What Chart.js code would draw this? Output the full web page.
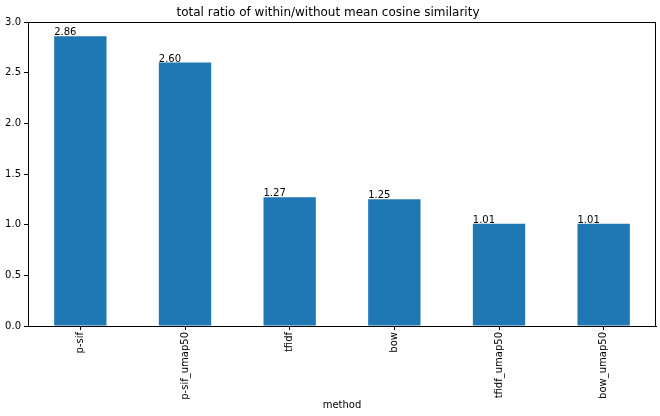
<!DOCTYPE html>
<html>
<head>
<meta charset="utf-8">
<script src="https://cdn.jsdelivr.net/npm/chart.js@4/dist/chart.umd.min.js"></script>
<style>
html,body{margin:0;padding:0;background:#fff;}
#wrap{width:660px;height:416px;}
</style>
</head>
<body>
<div id="wrap"><canvas id="c" width="660" height="416"></canvas></div>
<script>
const categories = ["p-sif", "p-sif_umap50", "tfidf", "bow", "tfidf_umap50", "bow_umap50"];
const ratioValues = [2.86, 2.60, 1.27, 1.25, 1.01, 1.01];
const yTickValues = [0.0, 0.5, 1.0, 1.5, 2.0, 2.5, 3.0];

Chart.defaults.font.family = "'DejaVu Sans', sans-serif";
Chart.defaults.color = "#000";

const frame = {
  id: 'frame',
  afterDraw(chart) {
    const {ctx, chartArea: a} = chart;
    ctx.save();
    ctx.strokeStyle = '#000';
    ctx.lineWidth = 1;
    ctx.strokeRect(Math.round(a.left) + 0.5, Math.round(a.top) + 0.5, Math.round(a.right - a.left) - 1, Math.round(a.bottom - a.top));
    ctx.restore();
  }
};

const barLabels = {
  id: 'barLabels',
  afterDatasetsDraw(chart) {
    const {ctx} = chart;
    const meta = chart.getDatasetMeta(0);
    ctx.save();
    ctx.font = "10px 'DejaVu Sans', sans-serif";
    ctx.fillStyle = '#000';
    ctx.textAlign = 'left';
    ctx.textBaseline = 'alphabetic';
    meta.data.forEach((bar, i) => {
      const v = chart.data.datasets[0].data[i];
      ctx.fillText(v.toFixed(2), bar.x - bar.width / 2, bar.y - 1);
    });
    ctx.restore();
  }
};

new Chart(document.getElementById('c'), {
  type: 'bar',
  data: {
    labels: categories,
    datasets: [{
      data: ratioValues,
      backgroundColor: '#1f77b4',
      borderWidth: 0,
      barPercentage: 0.5,
      categoryPercentage: 1.0
    }]
  },
  options: {
    responsive: false,
    animation: false,
    devicePixelRatio: 1,
    layout: {padding: {left: 0, right: 4, top: 0, bottom: 0}},
    plugins: {
      legend: {display: false},
      tooltip: {enabled: false},
      title: {
        display: true,
        text: 'total ratio of within/without mean cosine similarity',
        color: '#000',
        font: {size: 12, weight: 'normal', lineHeight: 1.2},
        padding: {top: 5.5, bottom: 2.1}
      }
    },
    scales: {
      x: {
        grid: {display: true, offset: false, drawOnChartArea: false, color: '#000', tickLength: 4, tickWidth: 1},
        border: {display: true, color: '#000'},
        ticks: {maxRotation: 90, minRotation: 90, autoSkip: false, font: {size: 10}, padding: 2, color: '#000'},
        title: {display: true, text: 'method', font: {size: 10}, color: '#000', padding: {top: 0, bottom: 5}},
        afterFit(s) { s.height = 90; }
      },
      y: {
        min: 0,
        max: 3.0,
        afterBuildTicks(s) { s.ticks = yTickValues.map(v => ({value: v})); },
        grid: {display: true, drawOnChartArea: false, color: '#000', tickLength: 4, tickWidth: 1},
        border: {display: true, color: '#000'},
        ticks: {font: {size: 10}, padding: 3, color: '#000', callback: v => Number(v).toFixed(1)},
        afterFit(s) { s.width = 28; }
      }
    }
  },
  plugins: [frame, barLabels]
});
</script>
</body>
</html>
